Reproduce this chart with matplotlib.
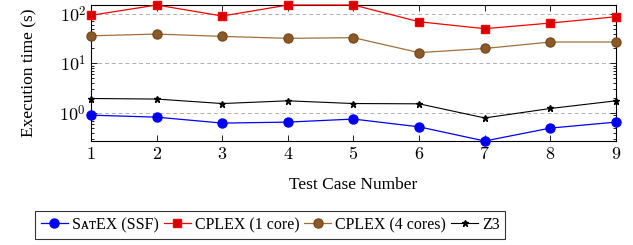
import matplotlib.pyplot as plt
from matplotlib.ticker import LogLocator, NullFormatter

plt.rcParams['font.family'] = ['Liberation Serif', 'DejaVu Serif']
plt.rcParams['mathtext.fontset'] = 'cm'

# test cases and execution times (s)
cases = [1, 2, 3, 4, 5, 6, 7, 8, 9]
satex = [0.91, 0.83, 0.63, 0.66, 0.76, 0.53, 0.275, 0.50, 0.66]
cplex1 = [93, 150, 90, 150, 150, 69, 50, 65, 87]
cplex4 = [36, 39, 35, 32, 33, 16.5, 20, 27, 27]
z3 = [1.97, 1.92, 1.56, 1.77, 1.56, 1.54, 0.80, 1.24, 1.77]

fig = plt.figure(figsize=(6.33, 2.45), dpi=100)
ax = fig.add_axes([0.1438, 0.4245, 0.8292, 0.5551])

ax.plot(cases, satex, color='#0000ff', lw=0.9, marker='o', ms=6.5,
        mfc='#0000ee', mec='#0000ff', label='S\u1d00\u1d1bEX (SSF)', clip_on=False, zorder=3)
ax.plot(cases, cplex1, color='#ff0000', lw=0.9, marker='s', ms=6,
        mfc='#d40000', mec='#ff0000', label='CPLEX (1 core)', clip_on=False, zorder=3)
ax.plot(cases, cplex4, color='#a0703c', lw=0.9, marker='o', ms=6.5,
        mfc='#8a5a2a', mec='#7a4a1a', label='CPLEX (4 cores)', clip_on=False, zorder=3)
ax.plot(cases, z3, color='black', lw=0.8, marker='*', ms=5,
        label='Z3', clip_on=False, zorder=3)

ax.set_yscale('log')
ax.set_xlim(1, 9)
ax.set_ylim(min(satex), max(cplex1))
ax.set_xticks(cases)
ax.set_xticklabels(['$%d$' % c for c in cases], fontsize=13)
ax.set_yticks([1, 10, 100])
ax.set_yticklabels(['$10^{0}$', '$10^{1}$', '$10^{2}$'], fontsize=13)
ax.yaxis.set_minor_locator(LogLocator(base=10, subs=range(2, 10)))
ax.yaxis.set_minor_formatter(NullFormatter())
ax.tick_params(which='both', direction='in', top=True, right=True, width=0.6)
ax.tick_params(which='major', length=4)
ax.tick_params(which='minor', length=2)
ax.grid(axis='y', which='major', ls=(0, (4, 3)), color='#b0b0b0', lw=0.7)
for s in ax.spines.values():
    s.set_linewidth(0.8)

ax.set_xlabel('Test Case Number', fontsize=12.5, labelpad=10)
ax.set_ylabel('Execution time (s)', fontsize=12.5, labelpad=16)

leg = fig.legend(loc='center', bbox_to_anchor=(0.427, 0.082), ncol=4, fontsize=11.5,
                 frameon=True, fancybox=False, edgecolor='black', handlelength=1.7,
                 handletextpad=0.25, columnspacing=0.3, borderpad=0.35)
leg.get_frame().set_linewidth(0.8)

fig.savefig('out.png', dpi=100)
